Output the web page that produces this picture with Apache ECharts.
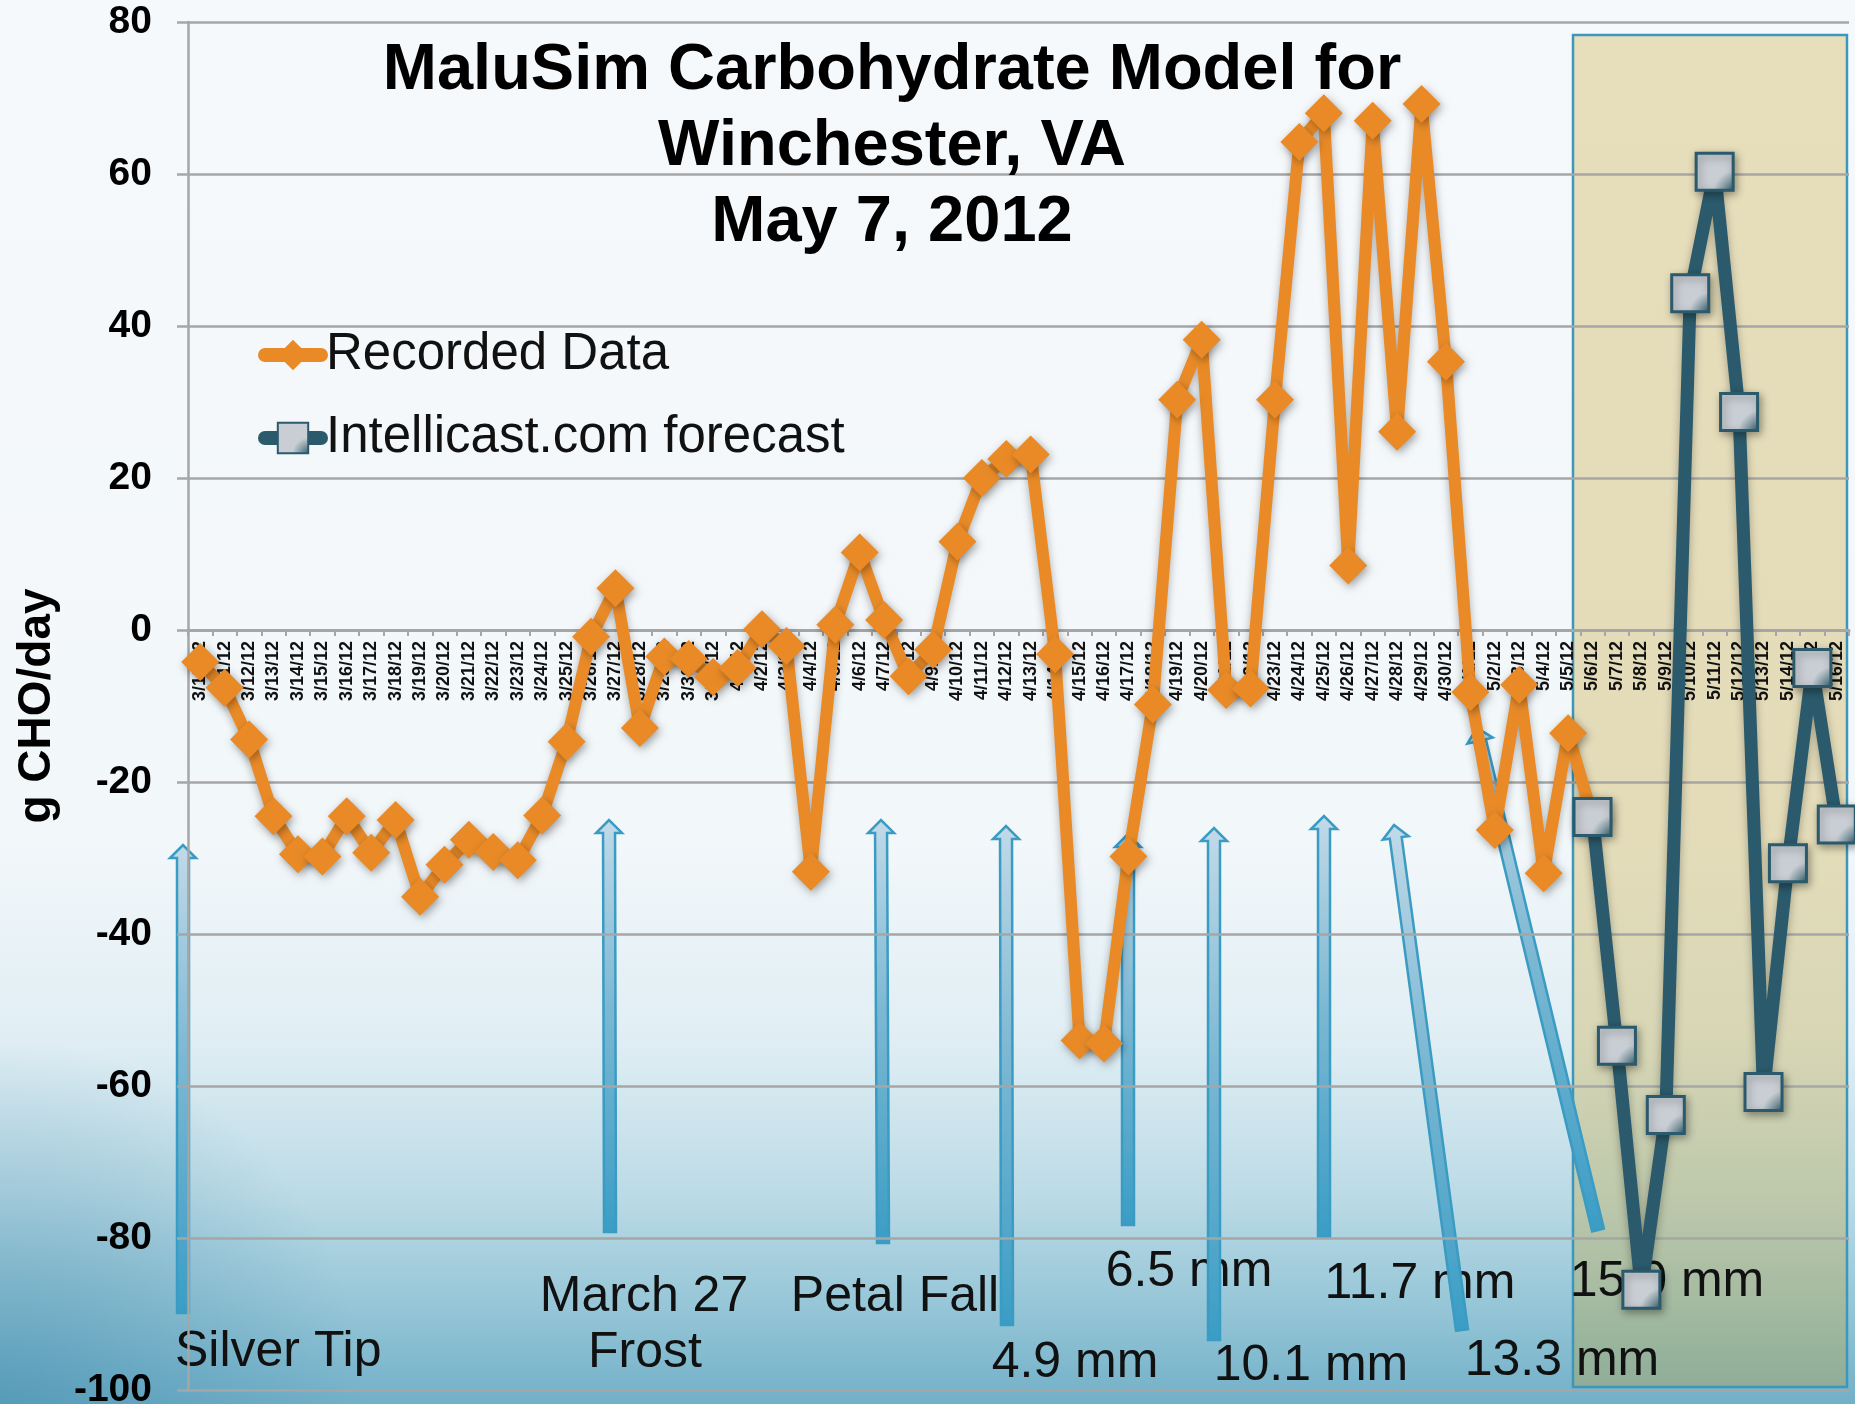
<!DOCTYPE html>
<html>
<head>
<meta charset="utf-8">
<title>MaluSim Carbohydrate Model</title>
<script src="https://cdn.jsdelivr.net/npm/echarts@6/dist/echarts.min.js"></script>
<style>
html, body { margin: 0; padding: 0; }
#chart { width: 1855px; height: 1404px; }
</style>
</head>
<body>
<div id="chart"></div>
<script>
// categories
var dates = ['3/10/12', '3/11/12', '3/12/12', '3/13/12', '3/14/12', '3/15/12', '3/16/12', '3/17/12', '3/18/12', '3/19/12',
  '3/20/12', '3/21/12', '3/22/12', '3/23/12', '3/24/12', '3/25/12', '3/26/12', '3/27/12', '3/28/12', '3/29/12',
  '3/30/12', '3/31/12', '4/1/12', '4/2/12', '4/3/12', '4/4/12', '4/5/12', '4/6/12', '4/7/12', '4/8/12',
  '4/9/12', '4/10/12', '4/11/12', '4/12/12', '4/13/12', '4/14/12', '4/15/12', '4/16/12', '4/17/12', '4/18/12',
  '4/19/12', '4/20/12', '4/21/12', '4/22/12', '4/23/12', '4/24/12', '4/25/12', '4/26/12', '4/27/12', '4/28/12',
  '4/29/12', '4/30/12', '5/1/12', '5/2/12', '5/3/12', '5/4/12', '5/5/12', '5/6/12', '5/7/12', '5/8/12',
  '5/9/12', '5/10/12', '5/11/12', '5/12/12', '5/13/12', '5/14/12', '5/15/12', '5/16/12']

// recorded 3/10 .. 5/6
var recorded = [-4.2, -7.6, -14.4, -24.5, -29.5, -29.8, -24.5, -29.3, -25, -35.1,
  -30.9, -27.6, -29.2, -30.3, -24.4, -14.7, -0.9, 5.5, -12.9, -3.5,
  -3.8, -6.2, -5.0, 0.1, -2.1, -31.8, 0.7, 10.2, 1.3, -6.1,
  -2.6, 11.6, 20, 22.5, 23.1, -3.2, -54, -54.4, -29.8, -9.8,
  30.3, 38.2, -7.9, -7.7, 30.3, 64.2, 68, 8.5, 67, 26.1,
  69.2, 35.3, -8.2, -26.3, -7.2, -32, -13.6, -24.6]

// forecast 5/6 .. 5/16
var forecastStart = '5/6/12'
var forecast = [-24.6, -54.7, -86.8, -63.8, 44.3, 60.3, 28.7, -60.8, -30.7, -5.0, -25.6]

var yTicks = { min: -100, max: 80, step: 20 }

var notes = ['Silver Tip', 'March 27', 'Frost', 'Petal Fall', '6.5 mm', '4.9 mm', '10.1 mm', '11.7 mm', '13.3 mm', '15.0 mm']

var chart = echarts.init(document.getElementById('chart'))

var fontName = '"Liberation Sans", Arial, sans-serif'

// forecast series padded to the category axis
var startIdx = dates.indexOf(forecastStart)
var forecastData = dates.map(function (d, i) {
  return i < startIdx ? '-' : forecast[i - startIdx]
})

function arrowPoints(bx, by, tx, ty) {
  var dx = tx - bx, dy = ty - by
  var len = Math.sqrt(dx * dx + dy * dy)
  var ux = dx / len, uy = dy / len
  var nx = -uy, ny = ux
  var w = 6, hw = 13, hl = 13
  var kx = tx - ux * hl, ky = ty - uy * hl
  return [
    [bx + nx * w, by + ny * w], [kx + nx * w, ky + ny * w], [kx + nx * hw, ky + ny * hw],
    [tx, ty],
    [kx - nx * hw, ky - ny * hw], [kx - nx * w, ky - ny * w], [bx - nx * w, by - ny * w]
  ]
}

// annotation layout: [base x, base y, tip x, tip y]
var arrowPos = [
  [183, 1313, 183, 845],
  [610, 1232, 609, 820],
  [883, 1243, 881, 820],
  [1007, 1325, 1006, 826],
  [1128, 1225, 1128, 834],
  [1214, 1340, 1214, 828],
  [1324, 1237, 1324, 816],
  [1462, 1330, 1394, 825],
  [1598, 1230, 1477, 728]
]
// [left/center x, y, align]
var notePos = [
  [175, 1352, 'left'],
  [644, 1297, 'center'],
  [645, 1353, 'center'],
  [895, 1297, 'center'],
  [1189, 1272, 'center'],
  [1075, 1363, 'center'],
  [1311, 1366, 'center'],
  [1420, 1284, 'center'],
  [1562, 1361, 'center'],
  [1667, 1282, 'center']
]

var graphics = []
// background
graphics.push({
  type: 'rect', z: -10, silent: true,
  shape: { x: 0, y: 0, width: 1855, height: 1404 },
  style: {
    fill: new echarts.graphic.LinearGradient(0, 0, 0, 1, [
      { offset: 0, color: '#f6f9fc' },
      { offset: 0.6, color: '#f2f7fa' },
      { offset: 0.74, color: '#e0eef4' },
      { offset: 0.85, color: '#bcdbe6' },
      { offset: 0.93, color: '#96c6d7' },
      { offset: 1, color: '#72b0c8' }
    ])
  }
})
graphics.push({
  type: 'rect', z: -9, silent: true,
  shape: { x: 0, y: 0, width: 1855, height: 1404 },
  style: {
    fill: new echarts.graphic.RadialGradient(0, 1, 0.26, [
      { offset: 0, color: 'rgba(60,135,170,0.5)' },
      { offset: 1, color: 'rgba(60,135,170,0)' }
    ])
  }
})
// forecast window
graphics.push({
  type: 'rect', z: -1, silent: true,
  shape: { x: 1573, y: 35, width: 274, height: 1352 },
  style: { fill: 'rgba(197,160,37,0.3)', stroke: '#3d97bb', lineWidth: 2.5 }
})
notes.forEach(function (t, i) {
  var p = notePos[i]
  graphics.push({
    type: 'text', silent: true,
    style: {
      text: t, x: p[0], y: p[1],
      font: '50px ' + fontName, fill: '#111',
      textAlign: p[2], textVerticalAlign: 'middle',
      align: p[2], verticalAlign: 'middle'
    }
  })
})
arrowPos.forEach(function (a) {
  graphics.push({
    type: 'polygon', silent: true,
    shape: { points: arrowPoints(a[0], a[1], a[2], a[3]) },
    style: {
      fill: new echarts.graphic.LinearGradient(0, 0, 0, 1, [
        { offset: 0, color: '#c2dae8' },
        { offset: 0.45, color: '#7db8d3' },
        { offset: 1, color: '#3a9dc5' }
      ]),
      stroke: '#3a9bc3',
      lineWidth: 2.5
    }
  })
})

var sqFill = new echarts.graphic.RadialGradient(1, 1, 0.75, [
  { offset: 0, color: '#2a5a6b' },
  { offset: 0.35, color: '#7e97a1' },
  { offset: 0.7, color: '#c9ced4' },
  { offset: 1, color: '#c9ced4' }
])

chart.setOption({
  animation: false,
  title: {
    text: 'MaluSim Carbohydrate Model for\nWinchester, VA\nMay 7, 2012',
    left: 892,
    top: 33,
    padding: 0,
    textAlign: 'center',
    textStyle: {
      fontFamily: fontName,
      fontSize: 65,
      fontWeight: 'bold',
      lineHeight: 76,
      color: '#000'
    }
  },
  legend: {
    orient: 'vertical',
    left: 258,
    top: 329,
    padding: 0,
    itemWidth: 56,
    itemHeight: 38,
    itemGap: 31,
    lineStyle: { width: 14, cap: 'round' },
    textStyle: { fontFamily: fontName, fontSize: 51, color: '#111', lineHeight: 52 },
    data: ['Recorded Data', 'Intellicast.com forecast']
  },
  grid: {
    left: 188,
    right: 6,
    top: 22,
    bottom: 14,
    outerBoundsMode: 'none'
  },
  xAxis: {
    type: 'category',
    data: dates,
    boundaryGap: true,
    position: 'bottom',
    // x轴放在0的位置
    offset: -760,
    axisLine: { onZero: false, lineStyle: { color: '#a6a6a6', width: 3 } },
    axisTick: { show: true, length: 6, lineStyle: { color: '#a6a6a6', width: 2 } },
    axisLabel: {
      interval: 0,
      rotate: 90,
      margin: 11,
      fontSize: 18,
      fontWeight: 'bold',
      fontFamily: fontName,
      color: '#111'
    },
    splitLine: { show: false }
  },
  yAxis: {
    type: 'value',
    min: yTicks.min,
    max: yTicks.max,
    interval: yTicks.step,
    name: 'g CHO/day',
    nameLocation: 'middle',
    nameGap: 128,
    nameTextStyle: { fontFamily: fontName, fontSize: 46, fontWeight: 'bold', color: '#000' },
    axisLine: { show: true, lineStyle: { color: '#a6a6a6', width: 2.5 } },
    axisTick: { show: true, length: 11, lineStyle: { color: '#a6a6a6', width: 2.5 } },
    axisLabel: { margin: 36, fontFamily: fontName, fontSize: 39, fontWeight: 'bold', color: '#000' },
    // 网格线
    splitLine: { lineStyle: { color: '#a6a6a6', width: 2.5 } }
  },
  graphic: graphics,
  series: [{
    name: 'Recorded Data',
    type: 'line',
    z: 3,
    data: recorded,
    symbol: 'diamond',
    symbolSize: 38,
    showAllSymbol: true,
    lineStyle: {
      color: '#e98a27',
      width: 12,
      shadowColor: 'rgba(0,0,0,0.3)',
      shadowBlur: 8,
      shadowOffsetY: 3
    },
    itemStyle: {
      color: '#e98a27',
      shadowColor: 'rgba(0,0,0,0.35)',
      shadowBlur: 8,
      shadowOffsetX: 2,
      shadowOffsetY: 3
    }
  }, {
    name: 'Intellicast.com forecast',
    type: 'line',
    z: 4,
    data: forecastData,
    symbol: 'rect',
    symbolSize: 37,
    showAllSymbol: true,
    lineStyle: {
      color: '#2a5a6b',
      width: 13,
      shadowColor: 'rgba(0,0,0,0.3)',
      shadowBlur: 8,
      shadowOffsetY: 3
    },
    itemStyle: {
      color: sqFill,
      borderColor: '#2a5a6b',
      borderWidth: 3,
      shadowColor: 'rgba(0,0,0,0.35)',
      shadowBlur: 8,
      shadowOffsetX: 2,
      shadowOffsetY: 3
    }
  }]
})
</script>
</body>
</html>
